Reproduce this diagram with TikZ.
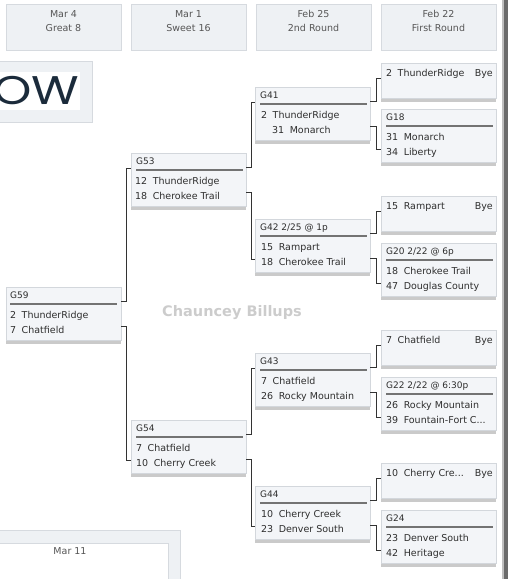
\documentclass[tikz,border=0pt]{standalone}
\usepackage{fontspec}
\usepackage{graphicx}
\setmainfont{DejaVu Sans}
\newfontfamily\logofont{Poppins}
\usetikzlibrary{shadows}
\definecolor{boxfill}{HTML}{F3F5F8}
\definecolor{boxline}{HTML}{D3D7DC}
\definecolor{hdrfill}{HTML}{EEF1F4}
\definecolor{hdrline}{HTML}{D6DADF}
\definecolor{inktext}{HTML}{2E2E2E}
\definecolor{hdrtext}{HTML}{555555}
\definecolor{navy}{HTML}{1B2B3B}
\newcommand\seed[2]{#1\hspace{5.5pt}#2}

\begin{document}
\begin{tikzpicture}[x=1pt,y=-1pt,
    font=\fontsize{9.5}{11}\selectfont,text=inktext,
    gamebox/.style={draw=boxline,fill=boxfill,anchor=north west,inner sep=0pt,
        minimum width=115pt,minimum height=53pt,
        drop shadow={shadow xshift=0pt,shadow yshift=-3.5pt,opacity=0.42}},
    byebox/.style={gamebox,minimum height=35pt},
    hdrbox/.style={draw=hdrline,fill=hdrfill,anchor=north west,inner sep=0pt,
        minimum width=115pt,minimum height=46pt},
    hdrtxt/.style={anchor=base,inner sep=0pt,text=hdrtext},
    title/.style={anchor=base west,inner sep=0pt,font=\fontsize{9}{10}\selectfont},
    team/.style={anchor=base west,inner sep=0pt},
    rule/.style={draw=black!55,line width=1.2pt},
    conn/.style={draw=black!80,line width=0.9pt}]
    \useasboundingbox (0,0) rectangle (508,579);

    % logo and watermark
    \filldraw[fill=hdrfill,draw=hdrline] (-1,61) rectangle (92,122);
    \fill[white] (-1,72) rectangle (80,110);
    \begin{scope}
        \clip (0,72) rectangle (80,110);
        \node[anchor=base east,inner sep=0pt,text=navy,font=\logofont\fontsize{40}{40}\selectfont] (logo) at (79.5,104) {\scalebox{1.22}[1]{OW}};
    \end{scope}
    \node[font=\bfseries\fontsize{14.5}{16}\selectfont,text=black!20] (wmark) at (232,313) {Chauncey Billups};

    % Great 8
    \begin{scope}[xshift=6pt]
        \node[hdrbox] (h1) at (0,4) {};
        \node[hdrtxt] (h1a) at ([shift={(57.5,13.5)}]h1.north west) {Mar 4};
        \node[hdrtxt] (h1b) at ([shift={(57.5,27.5)}]h1.north west) {Great 8};
        \node[gamebox] (g59) at (0,287) {};
        \node[title] (g59t) at ([shift={(4,11.5)}]g59.north west) {G59};
        \draw[rule] ([shift={(4,17)}]g59.north west) -- ++(107,0);
        \node[team] (g59a) at ([shift={(4,31.5)}]g59.north west) {\seed{2}{ThunderRidge}};
        \node[team] (g59b) at ([shift={(4,46.5)}]g59.north west) {\seed{7}{Chatfield}};
    \end{scope}

    % Sweet 16
    \begin{scope}[xshift=131pt]
        \node[hdrbox] (h2) at (0,4) {};
        \node[hdrtxt] (h2a) at ([shift={(57.5,13.5)}]h2.north west) {Mar 1};
        \node[hdrtxt] (h2b) at ([shift={(57.5,27.5)}]h2.north west) {Sweet 16};
        \node[gamebox] (g53) at (0,153) {};
        \node[title] (g53t) at ([shift={(5,11.5)}]g53.north west) {G53};
        \draw[rule] ([shift={(5,17)}]g53.north west) -- ++(107,0);
        \node[team] (g53a) at ([shift={(4,31.5)}]g53.north west) {\seed{12}{ThunderRidge}};
        \node[team] (g53b) at ([shift={(4,46.5)}]g53.north west) {\seed{18}{Cherokee Trail}};
        \node[gamebox] (g54) at (0,420) {};
        \node[title] (g54t) at ([shift={(5,11.5)}]g54.north west) {G54};
        \draw[rule] ([shift={(5,17)}]g54.north west) -- ++(107,0);
        \node[team] (g54a) at ([shift={(5,31.5)}]g54.north west) {\seed{7}{Chatfield}};
        \node[team] (g54b) at ([shift={(5,46.5)}]g54.north west) {\seed{10}{Cherry Creek}};
    \end{scope}

    % 2nd Round
    \begin{scope}[xshift=255pt]
        \node[hdrbox] (h3) at (1,4) {};
        \node[hdrtxt] (h3a) at ([shift={(57.5,13.5)}]h3.north west) {Feb 25};
        \node[hdrtxt] (h3b) at ([shift={(57.5,27.5)}]h3.north west) {2nd Round};
        \node[gamebox] (g41) at (0,87) {};
        \node[title] (g41t) at ([shift={(5,11.5)}]g41.north west) {G41};
        \draw[rule] ([shift={(5,17)}]g41.north west) -- ++(107,0);
        \node[team] (g41a) at ([shift={(6,31.5)}]g41.north west) {\seed{2}{ThunderRidge}};
        \node[team] (g41b) at ([shift={(17,46.5)}]g41.north west) {\seed{31}{Monarch}};
        \node[gamebox] (g42) at (0,219) {};
        \node[title] (g42t) at ([shift={(5,11.5)}]g42.north west) {G42 2/25 @ 1p};
        \draw[rule] ([shift={(5,17)}]g42.north west) -- ++(107,0);
        \node[team] (g42a) at ([shift={(6,31.5)}]g42.north west) {\seed{15}{Rampart}};
        \node[team] (g42b) at ([shift={(6,46.5)}]g42.north west) {\seed{18}{Cherokee Trail}};
        \node[gamebox] (g43) at (0,353) {};
        \node[title] (g43t) at ([shift={(5,11.5)}]g43.north west) {G43};
        \draw[rule] ([shift={(5,17)}]g43.north west) -- ++(107,0);
        \node[team] (g43a) at ([shift={(6,31.5)}]g43.north west) {\seed{7}{Chatfield}};
        \node[team] (g43b) at ([shift={(6,46.5)}]g43.north west) {\seed{26}{Rocky Mountain}};
        \node[gamebox] (g44) at (0,486) {};
        \node[title] (g44t) at ([shift={(5,11.5)}]g44.north west) {G44};
        \draw[rule] ([shift={(5,17)}]g44.north west) -- ++(107,0);
        \node[team] (g44a) at ([shift={(6,31.5)}]g44.north west) {\seed{10}{Cherry Creek}};
        \node[team] (g44b) at ([shift={(6,46.5)}]g44.north west) {\seed{23}{Denver South}};
    \end{scope}

    % First Round
    \begin{scope}[xshift=381pt]
        \node[hdrbox] (h4) at (0,4) {};
        \node[hdrtxt] (h4a) at ([shift={(57.5,13.5)}]h4.north west) {Feb 22};
        \node[hdrtxt] (h4b) at ([shift={(57.5,27.5)}]h4.north west) {First Round};
        \node[byebox] (byeA) at (0,63) {};
        \node[team] (byeAa) at ([shift={(5,13.5)}]byeA.north west) {\seed{2}{ThunderRidge}};
        \node[team,anchor=base east] (byeAb) at ([shift={(112,13.5)}]byeA.north west) {Bye};
        \node[gamebox] (g18) at (0,109) {};
        \node[title] (g18t) at ([shift={(5,11.5)}]g18.north west) {G18};
        \draw[rule] ([shift={(5,17)}]g18.north west) -- ++(107,0);
        \node[team] (g18a) at ([shift={(5,31.5)}]g18.north west) {\seed{31}{Monarch}};
        \node[team] (g18b) at ([shift={(5,46.5)}]g18.north west) {\seed{34}{Liberty}};
        \node[byebox] (byeB) at (0,196) {};
        \node[team] (byeBa) at ([shift={(5,13.5)}]byeB.north west) {\seed{15}{Rampart}};
        \node[team,anchor=base east] (byeBb) at ([shift={(112,13.5)}]byeB.north west) {Bye};
        \node[gamebox] (g20) at (0,243) {};
        \node[title] (g20t) at ([shift={(5,11.5)}]g20.north west) {G20 2/22 @ 6p};
        \draw[rule] ([shift={(5,17)}]g20.north west) -- ++(107,0);
        \node[team] (g20a) at ([shift={(5,31.5)}]g20.north west) {\seed{18}{Cherokee Trail}};
        \node[team] (g20b) at ([shift={(5,46.5)}]g20.north west) {\seed{47}{Douglas County}};
        \node[byebox] (byeC) at (0,330) {};
        \node[team] (byeCa) at ([shift={(5,13.5)}]byeC.north west) {\seed{7}{Chatfield}};
        \node[team,anchor=base east] (byeCb) at ([shift={(112,13.5)}]byeC.north west) {Bye};
        \node[gamebox] (g22) at (0,377) {};
        \node[title] (g22t) at ([shift={(5,11.5)}]g22.north west) {G22 2/22 @ 6:30p};
        \draw[rule] ([shift={(5,17)}]g22.north west) -- ++(107,0);
        \node[team] (g22a) at ([shift={(5,31.5)}]g22.north west) {\seed{26}{Rocky Mountain}};
        \node[team] (g22b) at ([shift={(5,46.5)}]g22.north west) {\seed{39}{Fountain-Fort C...}};
        \node[byebox] (byeD) at (0,463) {};
        \node[team] (byeDa) at ([shift={(5,13.5)}]byeD.north west) {\seed{10}{Cherry Cre...}};
        \node[team,anchor=base east] (byeDb) at ([shift={(112,13.5)}]byeD.north west) {Bye};
        \node[gamebox] (g24) at (0,510) {};
        \node[title] (g24t) at ([shift={(5,11.5)}]g24.north west) {G24};
        \draw[rule] ([shift={(5,17)}]g24.north west) -- ++(107,0);
        \node[team] (g24a) at ([shift={(5,31.5)}]g24.north west) {\seed{23}{Denver South}};
        \node[team] (g24b) at ([shift={(5,46.5)}]g24.north west) {\seed{42}{Heritage}};
    \end{scope}

    % brackets
    \draw[conn] ([yshift=-14pt]g59.north east) -- ++(5,0) |- ([yshift=-15pt]g53.north west);
    \draw[conn] ([yshift=-39pt]g59.north east) -- ++(5,0) |- ([yshift=-40pt]g54.north west);
    \draw[conn] ([yshift=-14pt]g53.north east) -- ++(5,0) |- ([yshift=-15pt]g41.north west);
    \draw[conn] ([yshift=-39pt]g53.north east) -- ++(5,0) |- ([yshift=-40pt]g42.north west);
    \draw[conn] ([yshift=-14pt]g54.north east) -- ++(5,0) |- ([yshift=-15pt]g43.north west);
    \draw[conn] ([yshift=-39pt]g54.north east) -- ++(5,0) |- ([yshift=-40pt]g44.north west);
    \draw[conn] ([yshift=-14pt]g41.north east) -- ++(6,0) |- ([yshift=-15pt]byeA.north west);
    \draw[conn] ([yshift=-39pt]g41.north east) -- ++(6,0) |- ([yshift=-40pt]g18.north west);
    \draw[conn] ([yshift=-14pt]g42.north east) -- ++(6,0) |- ([yshift=-15pt]byeB.north west);
    \draw[conn] ([yshift=-39pt]g42.north east) -- ++(6,0) |- ([yshift=-40pt]g20.north west);
    \draw[conn] ([yshift=-14pt]g43.north east) -- ++(6,0) |- ([yshift=-15pt]byeC.north west);
    \draw[conn] ([yshift=-39pt]g43.north east) -- ++(6,0) |- ([yshift=-40pt]g22.north west);
    \draw[conn] ([yshift=-14pt]g44.north east) -- ++(6,0) |- ([yshift=-15pt]byeD.north west);
    \draw[conn] ([yshift=-39pt]g44.north east) -- ++(6,0) |- ([yshift=-40pt]g24.north west);

    % Mar 11 panel and scrollbar
    \filldraw[fill=hdrfill,draw=hdrline] (-1,530) rectangle (180,581);
    \filldraw[fill=white,draw=hdrline] (-1,543) rectangle (168,581);
    \node[hdrtxt] (mar11) at (70,554.5) {Mar 11};
    \fill[black!25] (501.5,0) rectangle (503.5,579);
    \fill[black!58] (503.5,0) rectangle (508,579);
\end{tikzpicture}
\end{document}
